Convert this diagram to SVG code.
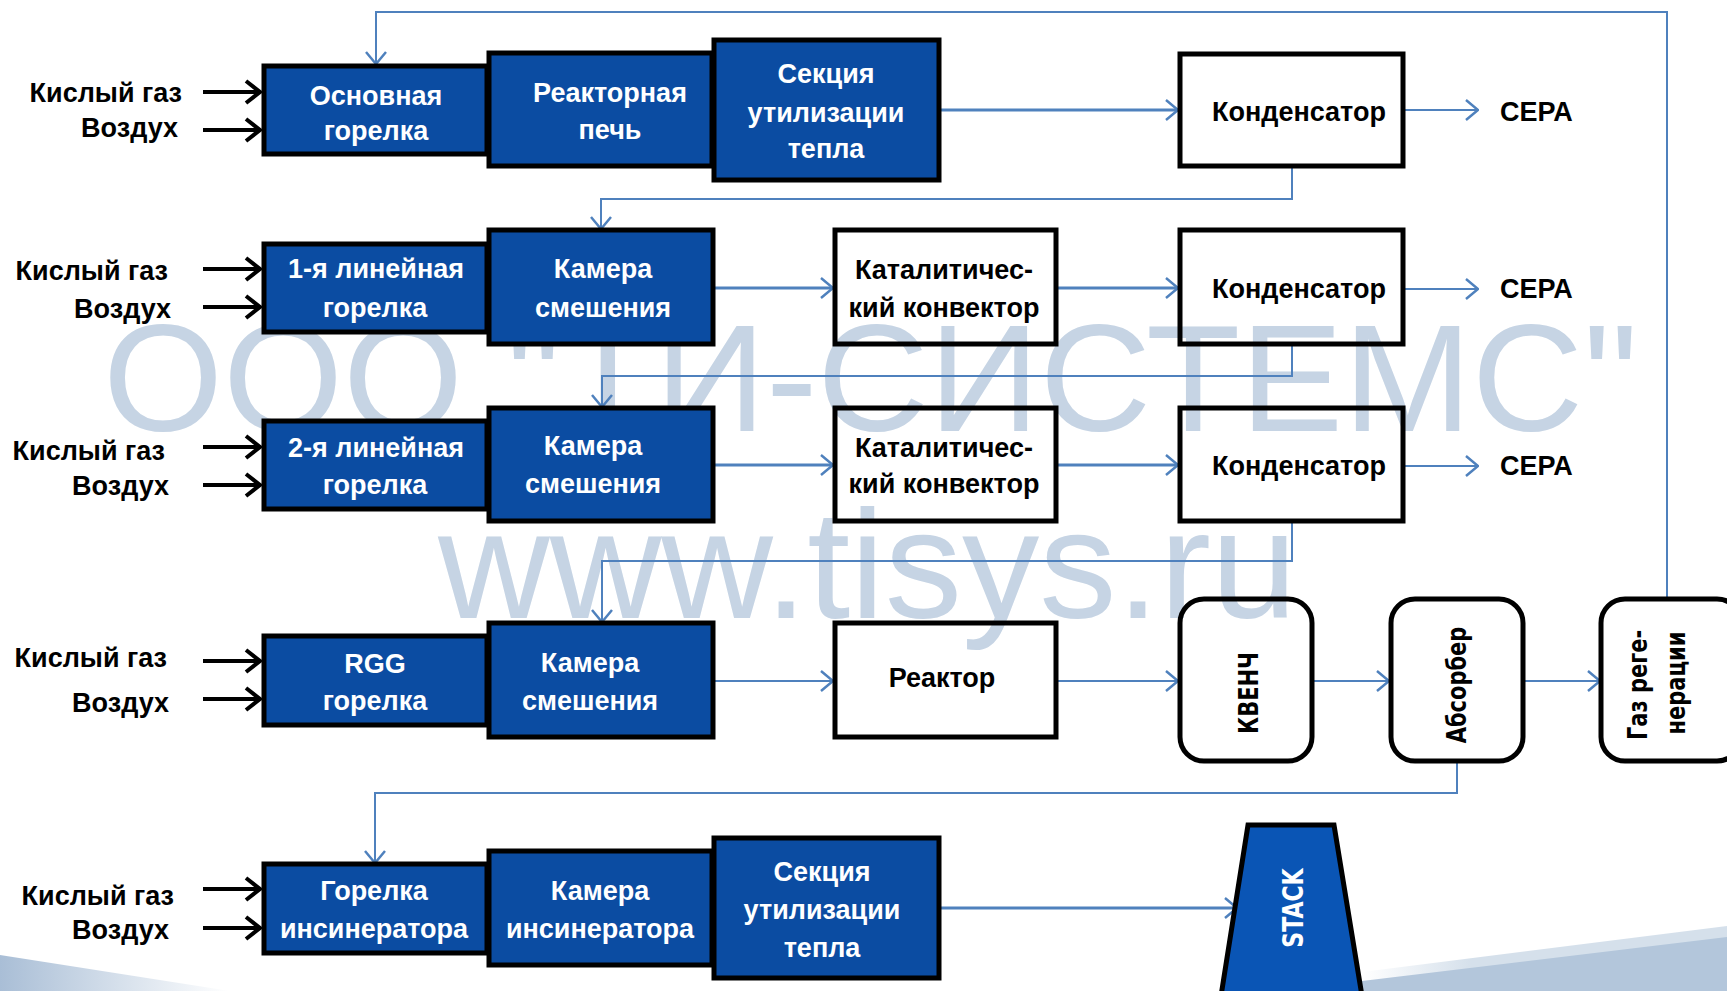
<svg xmlns="http://www.w3.org/2000/svg" width="1727" height="991" viewBox="0 0 1727 991">
<defs>
<style>
.wm{font-family:"Liberation Sans",Arial,sans-serif;fill:#c6d4e4;}
.bb{fill:#0b4ca2;stroke:#000;stroke-width:5;}
.wb{fill:none;stroke:#000;stroke-width:5;}
.t{font-family:"Liberation Sans",Arial,sans-serif;font-weight:bold;font-size:27px;text-anchor:middle;}
.tw{fill:#fff;}
.tk{fill:#000;}
.lab{font-family:"Liberation Sans",Arial,sans-serif;font-weight:bold;font-size:27px;text-anchor:end;fill:#000;}
.vt{font-family:"DejaVu Sans",Verdana,sans-serif;font-weight:bold;font-size:21px;text-anchor:middle;fill:#000;}
.ln{fill:none;stroke:#4f81bd;stroke-width:3;marker-end:url(#ab);}
.fb{fill:none;stroke:#4f81bd;stroke-width:2;}
.in{fill:none;stroke:#000;stroke-width:4;marker-end:url(#ak);}
</style>
<marker id="ab" viewBox="0 0 14 22" refX="13" refY="11" markerWidth="14" markerHeight="22" markerUnits="userSpaceOnUse" orient="auto">
<path d="M1,1 L13,11 L1,21" fill="none" stroke="#4f81bd" stroke-width="2.5"/>
</marker>
<marker id="ak" viewBox="0 0 18 26" refX="16" refY="13" markerWidth="18" markerHeight="26" markerUnits="userSpaceOnUse" orient="auto">
<path d="M2,2 L16,13 L2,24" fill="none" stroke="#000" stroke-width="4"/>
</marker>
<linearGradient id="gl" x1="0" y1="0" x2="1" y2="0">
<stop offset="0" stop-color="#a9bed6"/>
<stop offset="1" stop-color="#ffffff"/>
</linearGradient>
<linearGradient id="gr" x1="0" y1="0" x2="1" y2="0">
<stop offset="0" stop-color="#ffffff"/>
<stop offset="0.3" stop-color="#d5e0eb"/>
<stop offset="1" stop-color="#d5e0eb"/>
</linearGradient>
</defs>
<rect width="1727" height="991" fill="#fff"/>
<g id="decor">
<polygon points="0,955 230,991 0,991" fill="url(#gl)"/>
<polygon points="1362,972 1727,926 1727,991 1362,991" fill="url(#gr)"/>
<polygon points="1362,981 1727,937 1727,991 1362,991" fill="#b3c6db"/>
</g>
<g id="watermark">
<text class="wm" x="103" y="431" font-size="152" textLength="1535" lengthAdjust="spacingAndGlyphs">ООО "ТИ-СИСТЕМС"</text>
<text class="wm" x="438" y="618" font-size="154" textLength="859" lengthAdjust="spacingAndGlyphs">www.tisys.ru</text>
</g>
<g id="connectors">
<path class="fb" d="M1667,597 V12 H376 V64" marker-end="url(#ab)"/>
<path class="ln" d="M941,110 H1178"/>
<path class="ln" style="stroke-width:2" d="M1405,110 H1478"/>
<path class="fb" d="M1292,168 V199 H601 V229" marker-end="url(#ab)"/>
<path class="ln" d="M715,288 H833"/>
<path class="ln" d="M1058,288 H1178"/>
<path class="ln" style="stroke-width:2" d="M1405,289 H1478"/>
<path class="fb" d="M1292,346 V376 H602 V407" marker-end="url(#ab)"/>
<path class="ln" d="M715,465 H833"/>
<path class="ln" d="M1058,465 H1178"/>
<path class="ln" style="stroke-width:2" d="M1405,466 H1478"/>
<path class="fb" d="M1292,523 V561 H602 V622" marker-end="url(#ab)"/>
<path class="ln" style="stroke-width:2" d="M715,681 H833"/>
<path class="ln" style="stroke-width:2" d="M1058,681 H1178"/>
<path class="ln" style="stroke-width:2" d="M1314,681 H1389"/>
<path class="ln" style="stroke-width:2" d="M1525,681 H1600"/>
<path class="fb" d="M1457,763 V793 H375 V863" marker-end="url(#ab)"/>
<path class="ln" d="M941,908 H1237"/>
<path class="in" d="M203,92 H260"/>
<path class="in" d="M203,130 H260"/>
<path class="in" d="M203,269 H260"/>
<path class="in" d="M203,307 H260"/>
<path class="in" d="M203,447 H260"/>
<path class="in" d="M203,485 H260"/>
<path class="in" d="M203,661 H260"/>
<path class="in" d="M203,699 H260"/>
<path class="in" d="M203,889 H260"/>
<path class="in" d="M203,928 H260"/>
</g>
<g id="labels">
<text class="lab" x="182" y="102">Кислый газ</text>
<text class="lab" x="178" y="137">Воздух</text>
<text class="lab" x="168" y="280">Кислый газ</text>
<text class="lab" x="171" y="318">Воздух</text>
<text class="lab" x="165" y="460">Кислый газ</text>
<text class="lab" x="169" y="495">Воздух</text>
<text class="lab" x="167" y="667">Кислый газ</text>
<text class="lab" x="169" y="712">Воздух</text>
<text class="lab" x="174" y="905">Кислый газ</text>
<text class="lab" x="169" y="939">Воздух</text>
</g>
<g id="n-main-burner">
<rect class="bb" x="264" y="66" width="223" height="88"/>
<text class="t tw" x="376" y="105">Основная</text>
<text class="t tw" x="376" y="140">горелка</text>
</g>
<g id="n-reactor-furnace">
<rect class="bb" x="489" y="53" width="223" height="113"/>
<text class="t tw" x="610" y="102">Реакторная</text>
<text class="t tw" x="610" y="139">печь</text>
</g>
<g id="n-whb1">
<rect class="bb" x="714" y="40" width="225" height="140"/>
<text class="t tw" x="826" y="83">Секция</text>
<text class="t tw" x="826" y="122">утилизации</text>
<text class="t tw" x="826" y="158">тепла</text>
</g>
<g id="n-cond1">
<rect class="wb" x="1180" y="54" width="223" height="112"/>
<text class="t tk" x="1299" y="121">Конденсатор</text>
</g>
<g id="n-sulfur1"><text class="t tk" x="1500" y="121" style="text-anchor:start">СЕРА</text></g>
<g id="n-burner1">
<rect class="bb" x="264" y="244" width="223" height="88"/>
<text class="t tw" x="376" y="278">1-я линейная</text>
<text class="t tw" x="375" y="317">горелка</text>
</g>
<g id="n-mix1">
<rect class="bb" x="489" y="230" width="224" height="114"/>
<text class="t tw" x="603" y="278">Камера</text>
<text class="t tw" x="603" y="317">смешения</text>
</g>
<g id="n-cat1">
<rect class="wb" x="835" y="230" width="221" height="114"/>
<text class="t tk" x="944" y="279">Каталитичес-</text>
<text class="t tk" x="944" y="317">кий конвектор</text>
</g>
<g id="n-cond2">
<rect class="wb" x="1180" y="230" width="223" height="114"/>
<text class="t tk" x="1299" y="298">Конденсатор</text>
</g>
<g id="n-sulfur2"><text class="t tk" x="1500" y="298" style="text-anchor:start">СЕРА</text></g>
<g id="n-burner2">
<rect class="bb" x="264" y="421" width="223" height="88"/>
<text class="t tw" x="376" y="457">2-я линейная</text>
<text class="t tw" x="375" y="494">горелка</text>
</g>
<g id="n-mix2">
<rect class="bb" x="489" y="408" width="224" height="113"/>
<text class="t tw" x="593" y="455">Камера</text>
<text class="t tw" x="593" y="493">смешения</text>
</g>
<g id="n-cat2">
<rect class="wb" x="835" y="408" width="221" height="113"/>
<text class="t tk" x="944" y="457">Каталитичес-</text>
<text class="t tk" x="944" y="493">кий конвектор</text>
</g>
<g id="n-cond3">
<rect class="wb" x="1180" y="408" width="223" height="113"/>
<text class="t tk" x="1299" y="475">Конденсатор</text>
</g>
<g id="n-sulfur3"><text class="t tk" x="1500" y="475" style="text-anchor:start">СЕРА</text></g>
<g id="n-rgg">
<rect class="bb" x="264" y="636" width="223" height="89"/>
<text class="t tw" x="375" y="673">RGG</text>
<text class="t tw" x="375" y="710">горелка</text>
</g>
<g id="n-mix3">
<rect class="bb" x="489" y="623" width="224" height="114"/>
<text class="t tw" x="590" y="672">Камера</text>
<text class="t tw" x="590" y="710">смешения</text>
</g>
<g id="n-reactor">
<rect class="wb" x="835" y="623" width="221" height="114"/>
<text class="t tk" x="942" y="687">Реактор</text>
</g>
<g id="n-quench">
<rect class="wb" x="1180" y="599" width="132" height="162" rx="24"/>
<text class="vt" transform="translate(1258,693) rotate(-90) scale(1,1.3)">КВЕНЧ</text>
</g>
<g id="n-absorber">
<rect class="wb" x="1391" y="599" width="132" height="162" rx="24"/>
<text class="vt" transform="translate(1466,685) rotate(-90) scale(1,1.3)">Абсорбер</text>
</g>
<g id="n-regen">
<rect class="wb" x="1601" y="599" width="140" height="162" rx="24"/>
<text class="vt" transform="translate(1647,685) rotate(-90) scale(1,1.3)">Газ реге-</text>
<text class="vt" transform="translate(1685,683) rotate(-90) scale(1,1.3)">нерации</text>
</g>
<g id="n-inc-burner">
<rect class="bb" x="264" y="864" width="223" height="89"/>
<text class="t tw" x="374" y="900">Горелка</text>
<text class="t tw" x="374" y="938">инсинератора</text>
</g>
<g id="n-inc-chamber">
<rect class="bb" x="489" y="851" width="223" height="114"/>
<text class="t tw" x="600" y="900">Камера</text>
<text class="t tw" x="600" y="938">инсинератора</text>
</g>
<g id="n-whb2">
<rect class="bb" x="714" y="838" width="225" height="140"/>
<text class="t tw" x="822" y="881">Секция</text>
<text class="t tw" x="822" y="919">утилизации</text>
<text class="t tw" x="822" y="957">тепла</text>
</g>
<g id="n-stack">
<polygon points="1248,825 1334,825 1362,996 1221,996" fill="#0a55b5" stroke="#000" stroke-width="5"/>
<text class="vt" style="fill:#fff;font-size:22px" transform="translate(1303,908) rotate(-90) scale(1,1.3)">STACK</text>
</g>
</svg>
